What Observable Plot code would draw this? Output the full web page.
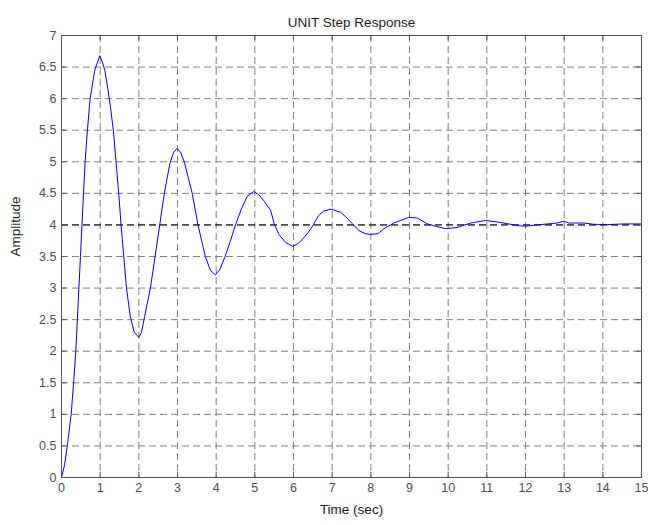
<!DOCTYPE html>
<html><head><meta charset="utf-8">
<script src="https://cdn.jsdelivr.net/npm/d3@7"></script>
<script src="https://cdn.jsdelivr.net/npm/@observablehq/plot@0.6"></script>
<style>body{margin:0;background:#fff}</style>
</head><body><div id="chart"></div>
<script>
// Step response samples
const time = [0,0.08,0.15,0.25,0.32,0.37,0.41,0.45,0.49,0.53,0.57,0.61,0.67,0.74,0.86,0.99,
  1.06,1.12,1.2,1.27,1.34,1.41,1.48,1.54,1.61,1.68,1.78,1.88,2.0,2.07,2.15,2.3,2.42,2.54,2.66,2.8,2.9,2.99,
  3.08,3.18,3.38,3.53,3.72,3.85,3.98,4.1,4.23,4.37,4.5,4.65,4.8,4.97,5.1,5.25,5.41,5.5,5.62,5.8,5.99,
  6.15,6.3,6.44,6.51,6.65,6.78,6.97,7.22,7.4,7.52,7.69,7.86,7.99,8.18,8.34,8.59,8.81,8.98,9.2,9.45,9.67,9.93,
  10.23,10.58,10.97,11.35,11.79,12.0,12.3,12.82,12.99,13.12,13.51,13.77,14.11,14.54,15];
const amplitude = [0,0.2,0.5,1.0,1.55,2.0,2.5,3.0,3.5,4.0,4.5,5.0,5.5,6.0,6.45,6.68,
  6.57,6.45,6.15,5.85,5.5,5.0,4.5,4.0,3.5,3.0,2.55,2.3,2.22,2.3,2.55,3.0,3.5,4.0,4.5,4.97,5.15,5.21,
  5.15,4.99,4.5,4.0,3.5,3.28,3.21,3.3,3.5,3.75,4.0,4.25,4.45,4.53,4.48,4.37,4.23,4.02,3.85,3.72,3.66,
  3.72,3.82,3.93,4.0,4.15,4.22,4.25,4.2,4.1,4.02,3.91,3.86,3.85,3.86,3.94,4.03,4.08,4.12,4.11,4.02,3.98,3.94,
  3.96,4.03,4.07,4.04,3.99,3.98,4.0,4.03,4.06,4.03,4.03,4.01,4.005,4.016,4.016];
const steadyState = [4];
const xTicks = [0,1,2,3,4,5,6,7,8,9,10,11,12,13,14,15];
const yTicks = [0,0.5,1,1.5,2,2.5,3,3.5,4,4.5,5,5.5,6,6.5,7];
const titleText = "UNIT Step Response";
const xLabel = "Time (sec)";
const yLabel = "Amplitude";

const data = time.map((t, i) => ({t, v: amplitude[i]}));
const W = 648, H = 525, mL = 61, mR = 7, mT = 35, mB = 48;
const innerW = W - mL - mR, innerH = H - mT - mB;
const axisColor = "#555";
const grid = {stroke: "#7f7f7f", strokeDasharray: "7,4", strokeWidth: 1};

const chart = Plot.plot({
  width: W, height: H,
  marginLeft: mL, marginRight: mR, marginTop: mT, marginBottom: mB,
  style: {fontFamily: "'Liberation Sans', Arial, sans-serif", fontSize: "12.5px", color: "#4d4d4d", background: "#fff"},
  x: {domain: [0, 15]},
  y: {domain: [0, 7]},
  marks: [
    Plot.ruleX(xTicks.slice(1, -1), {x: d => d, ...grid}),
    Plot.ruleY(yTicks.slice(1, -1), {y: d => d, ...grid}),
    Plot.ruleY(steadyState, {y: d => d, stroke: "#000", strokeDasharray: "7,4", strokeWidth: 1}),
    Plot.line(data, {x: "t", y: "v", stroke: "#0000ff", strokeWidth: 1}),
    Plot.frame({stroke: axisColor}),
    Plot.tickX(xTicks, {x: d => d, stroke: axisColor, insetTop: innerH - 5}),
    Plot.tickX(xTicks, {x: d => d, stroke: axisColor, insetBottom: innerH - 5}),
    Plot.tickY(yTicks, {y: d => d, stroke: axisColor, insetRight: innerW - 5}),
    Plot.tickY(yTicks, {y: d => d, stroke: axisColor, insetLeft: innerW - 5}),
    Plot.axisX({ticks: xTicks, tickSize: 0, tickPadding: 6, label: null, tickFormat: d => String(d)}),
    Plot.axisY({ticks: yTicks, tickSize: 0, tickPadding: 5, label: null, tickFormat: d => String(d)}),
    Plot.text([titleText], {text: d => d, frameAnchor: "top", dy: -18, fontSize: 13.5, fill: "#1a1a1a"}),
    Plot.text([xLabel], {text: d => d, frameAnchor: "bottom", dy: 36, fontSize: 13.5, fill: "#1a1a1a"}),
    Plot.text([yLabel], {text: d => d, frameAnchor: "left", dx: -46, rotate: -90, fontSize: 13.5, fill: "#1a1a1a"})
  ]
});
document.getElementById("chart").appendChild(chart);
</script>
</body></html>
